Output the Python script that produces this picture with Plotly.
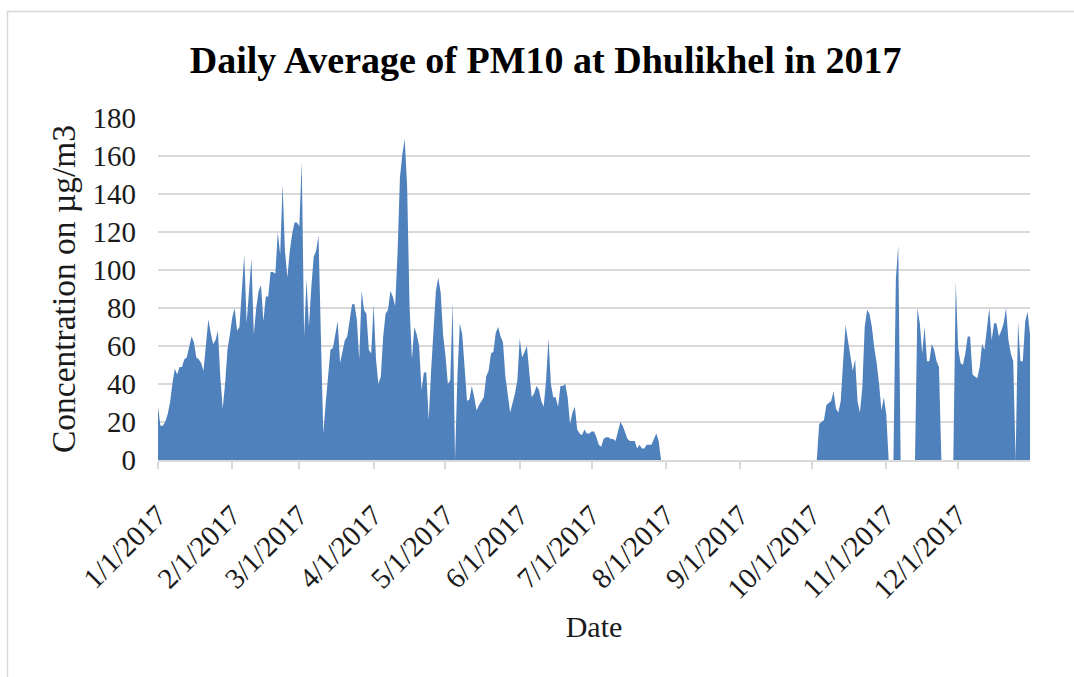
import pandas as pd
import plotly.graph_objects as go

# Daily PM10 values (µg/m3), one list per month (0 = no data)
jan = [28, 18, 18, 20, 24, 30, 40, 48, 45, 49, 49, 53, 54, 59, 65, 62, 54, 53, 51, 47,
       62, 74, 67, 61, 63, 68, 44, 27, 40, 58, 66]
feb = [75, 80, 68, 70, 92, 108, 72, 92, 106, 66, 80, 89, 92, 73, 86, 86, 99, 99, 98, 120,
       108, 145, 110, 96, 110, 119, 125, 125]
mar = [123, 157, 65, 95, 70, 91, 107, 110, 118, 65, 14, 30, 44, 58, 59, 67, 73, 51, 58, 63,
       65, 75, 82, 82, 74, 53, 89, 79, 77, 58, 56]
apr = [82, 53, 40, 44, 65, 77, 79, 89, 86, 81, 109, 149, 161, 169, 144, 81, 53, 70, 66, 60,
       37, 46, 46, 21, 47, 67, 89, 96, 88, 66]
may = [55, 40, 42, 83, 0, 45, 72, 66, 50, 31, 32, 39, 33, 26, 29, 31, 33, 44, 47, 56,
       57, 67, 70, 65, 62, 44, 33, 25, 30, 35, 42]
jun = [64, 54, 57, 60, 46, 33, 35, 39, 37, 31, 28, 42, 64, 40, 33, 33, 28, 39, 39, 40,
       33, 19, 25, 28, 16, 14, 13, 16, 14, 14]
jul = [15, 15, 12, 8, 7, 11, 12, 12, 11, 11, 10, 15, 20, 18, 14, 11, 10, 10, 10, 6,
       8, 6, 6, 8, 8, 8, 11, 14, 10, 0, 0]
aug = [0, 0, 0, 0, 0, 0, 0, 0, 0, 0, 0, 0, 0, 0, 0, 0, 0, 0, 0, 0,
       0, 0, 0, 0, 0, 0, 0, 0, 0, 0, 0]
sep = [0, 0, 0, 0, 0, 0, 0, 0, 0, 0, 0, 0, 0, 0, 0, 0, 0, 0, 0, 0,
       0, 0, 0, 0, 0, 0, 0, 0, 0, 0]
oct_ = [0, 0, 0, 19, 20, 21, 29, 30, 31, 36, 27, 25, 31, 52, 71, 63, 56, 47, 53, 31,
        25, 38, 70, 79, 77, 70, 59, 51, 40, 26, 33]
nov = [24, 0, 0, 0, 95, 113, 0, 0, 0, 0, 0, 0, 0, 80, 72, 56, 70, 52, 52, 61,
       58, 52, 49, 0, 0, 0, 0, 0, 0, 94]
dec = [59, 51, 50, 56, 65, 65, 45, 44, 43, 49, 61, 58, 70, 80, 63, 72, 72, 65, 68, 72,
       80, 63, 56, 52, 0, 73, 52, 52, 73, 78, 66]

pm10 = jan + feb + mar + apr + may + jun + jul + aug + sep + oct_ + nov + dec
dates = pd.date_range("2017-01-01", periods=len(pm10), freq="D")

tick_dates = ["2017-01-01", "2017-02-01", "2017-03-01", "2017-04-01", "2017-05-01",
              "2017-06-01", "2017-07-01", "2017-08-01", "2017-09-01", "2017-10-01",
              "2017-11-01", "2017-12-01"]
tick_labels = ["1/1/2017", "2/1/2017", "3/1/2017", "4/1/2017", "5/1/2017", "6/1/2017",
               "7/1/2017", "8/1/2017", "9/1/2017", "10/1/2017", "11/1/2017", "12/1/2017"]

FONT = "Liberation Serif"
BLUE = "rgb(79,129,189)"
GRID = "#d9d9d9"

fig = go.Figure()
fig.add_trace(go.Scatter(
    x=dates, y=pm10, mode="lines", fill="tozeroy",
    line=dict(width=0, color=BLUE), fillcolor=BLUE,
    showlegend=False, hoverinfo="x+y",
))

fig.update_layout(
    width=1074, height=677,
    margin=dict(l=158, r=44, t=118, b=217),
    paper_bgcolor="white", plot_bgcolor="white",
    title=dict(
        text="<b>Daily Average of PM10 at Dhulikhel in 2017</b>",
        font=dict(family=FONT, size=38, color="#000000"),
        x=0.508, xref="container", xanchor="center",
        y=1 - 60 / 677, yref="container", yanchor="middle",
    ),
    xaxis=dict(
        type="date",
        range=["2017-01-01", "2017-12-31"],
        tickmode="array", tickvals=tick_dates, ticktext=tick_labels,
        tickangle=-45,
        tickfont=dict(family=FONT, size=29, color="#1a1a1a"),
        showgrid=False, zeroline=False,
        showline=True, linecolor=GRID, linewidth=1.5,
        ticks="outside", ticklen=7, tickwidth=1.5, tickcolor=GRID,
        ticklabelstandoff=18,
        title=dict(text="Date", font=dict(family=FONT, size=30, color="#1a1a1a"), standoff=12),
        automargin=False,
    ),
    yaxis=dict(
        range=[0, 180], dtick=20, tick0=0,
        tickfont=dict(family=FONT, size=29, color="#1a1a1a"),
        showgrid=True, gridcolor=GRID, gridwidth=1.5,
        zeroline=False, showline=False,
        ticks="", ticklabelstandoff=21,
        title=dict(text="Concentration on µg/m3", font=dict(family=FONT, size=33.5, color="#1a1a1a"),
                   standoff=6),
        automargin=False,
    ),
    shapes=[dict(
        type="rect", xref="paper", yref="paper",
        x0=(7.5 - 158) / 872, x1=1.2, y0=-1.0, y1=(460 - 11.5) / 342,
        line=dict(color=GRID, width=1.5), fillcolor="rgba(0,0,0,0)", layer="below",
    )],
)

fig.write_html("out.html", config={"displayModeBar": False},
               post_script="document.body.style.margin='0';")
